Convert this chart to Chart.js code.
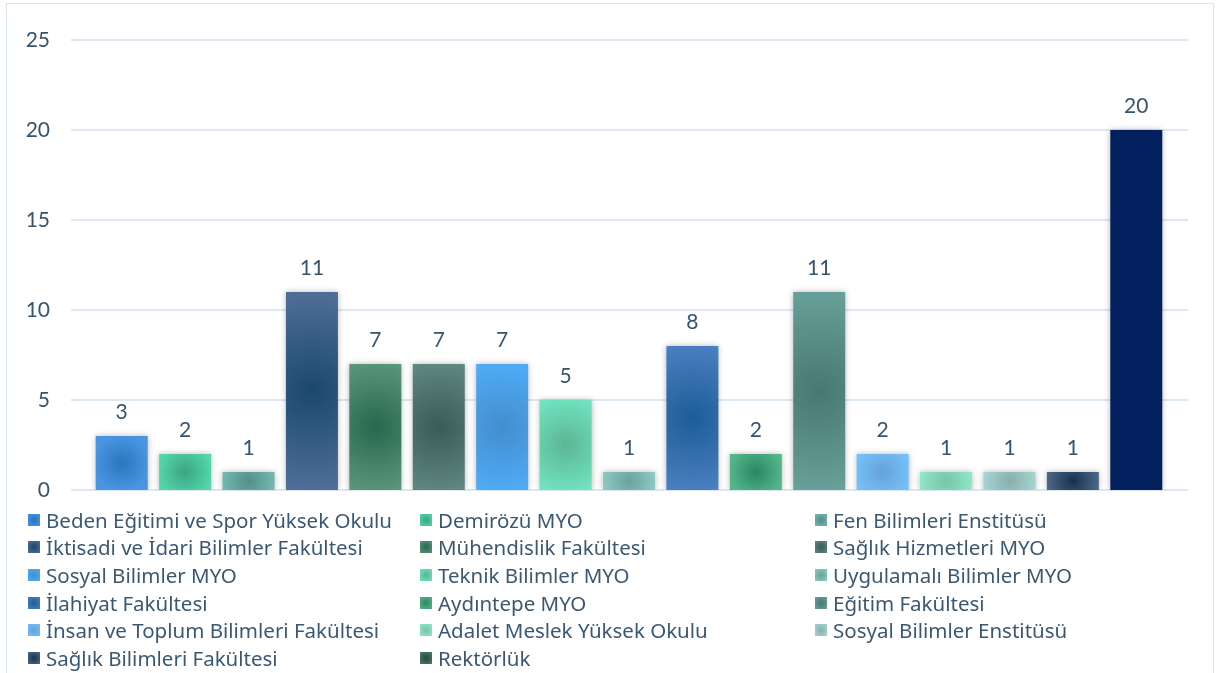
<!DOCTYPE html>
<html>
<head>
<meta charset="utf-8">
<script src="https://cdn.jsdelivr.net/npm/chart.js@4"></script>
<style>
  html, body { margin: 0; padding: 0; background: #fff; }
  #wrap { position: relative; width: 1217px; height: 673px; overflow: hidden; }
  #frame { position: absolute; left: 6px; top: 3px; width: 1208px; height: 700px; border: 1.5px solid #d9e6f1; box-sizing: border-box; }
  #c { position: absolute; left: 0; top: 0; }
  #legend { position: absolute; left: 28px; top: 506px; display: grid; grid-template-columns: 392px 395px 380px; grid-auto-rows: 27.6px; font-family: "Noto Sans", sans-serif; font-size: 20.5px; color: #3b5873; }
  #legend .it { display: flex; align-items: center; white-space: nowrap; }
  #legend .sw { width: 12px; height: 12px; margin-right: 6px; flex: none; }
</style>
</head>
<body>
<div id="wrap">
  <div id="frame"></div>
  <canvas id="c" width="1217" height="673"></canvas>
  <div id="legend"></div>
</div>
<script>
const CATEGORIES = ["Beden Eğitimi ve Spor Yüksek Okulu", "Demirözü MYO", "Fen Bilimleri Enstitüsü",
  "İktisadi ve İdari Bilimler Fakültesi", "Mühendislik Fakültesi", "Sağlık Hizmetleri MYO",
  "Sosyal Bilimler MYO", "Teknik Bilimler MYO", "Uygulamalı Bilimler MYO",
  "İlahiyat Fakültesi", "Aydıntepe MYO", "Eğitim Fakültesi",
  "İnsan ve Toplum Bilimleri Fakültesi", "Adalet Meslek Yüksek Okulu", "Sosyal Bilimler Enstitüsü",
  "Sağlık Bilimleri Fakültesi", "Rektörlük"];
const VALUES = [3, 2, 1, 11, 7, 7, 7, 5, 1, 8, 2, 11, 2, 1, 1, 1, 20];
const Y_TICKS = [0, 5, 10, 15, 20, 25];

// edge / center colours of each bar's gradient
const EDGE = ["#4a95e2", "#54d6a9", "#74bab2", "#51709a", "#5b967a", "#618781", "#50acf7", "#70e2be", "#8ecbc5",
  "#4b80c2", "#54b78b", "#69a19b", "#75bff9", "#90e9c9", "#a6d6d3", "#506a8a", "#03205e"];
const CENTER = ["#2a76bb", "#3aa682", "#558e89", "#1a486e", "#28684e", "#385c56", "#438dcd", "#5cb594", "#6ba29c",
  "#1d5d96", "#2b8763", "#487872", "#66a2d8", "#78c3a8", "#8aaeac", "#15334f", "#03205e"];
// the legend swatch of the last entry is green in the original, not navy
const LEGEND_EDGE = EDGE.slice(0, 16).concat(["#4f7d6c"]);
const LEGEND_CENTER = CENTER.slice(0, 16).concat(["#234a3c"]);

const TEXT = "#35546f";

function barFill(ctx) {
  const chart = ctx.chart;
  const i = ctx.dataIndex;
  if (!chart.chartArea || ctx.type !== "data") return EDGE[i];
  const xs = chart.scales.x, ys = chart.scales.y;
  const cx = xs.getPixelForValue(i);
  const top = ys.getPixelForValue(VALUES[i]), bot = ys.getPixelForValue(0);
  const cy = (top + bot) / 2;
  const r = Math.max(26, (bot - top) / 2) * 1.05;
  const g = chart.ctx.createRadialGradient(cx, cy, 0, cx, cy, r);
  g.addColorStop(0, CENTER[i]);
  g.addColorStop(1, EDGE[i]);
  return g;
}

const gridPlugin = {
  id: "grid",
  beforeDatasetsDraw(chart) {
    const ctx = chart.ctx, y = chart.scales.y;
    ctx.save();
    ctx.strokeStyle = "#dde8f2";
    ctx.lineWidth = 2;
    Y_TICKS.forEach(t => {
      const py = Math.round(y.getPixelForValue(t));
      ctx.beginPath();
      ctx.moveTo(71, py);
      ctx.lineTo(1188, py);
      ctx.stroke();
    });
    ctx.restore();
    ctx.save();
    ctx.shadowColor = "rgba(0,0,0,0.28)";
    ctx.shadowBlur = 6;
    ctx.shadowOffsetX = 0;
    ctx.shadowOffsetY = 0;
  },
  afterDatasetsDraw(chart) {
    chart.ctx.restore();
    const ctx = chart.ctx;
    const meta = chart.getDatasetMeta(0);
    ctx.save();
    ctx.fillStyle = TEXT;
    ctx.font = "21px Lato, sans-serif";
    ctx.textAlign = "center";
    ctx.textBaseline = "middle";
    meta.data.forEach((bar, i) => {
      ctx.fillText(String(VALUES[i]), bar.x, bar.y - 24);
    });
    ctx.restore();
  }
};

new Chart(document.getElementById("c"), {
  type: "bar",
  data: {
    labels: CATEGORIES,
    datasets: [{
      data: VALUES,
      backgroundColor: barFill,
      borderWidth: 0,
      barPercentage: 0.82,
      categoryPercentage: 1
    }]
  },
  options: {
    responsive: false,
    animation: false,
    layout: { padding: { left: 0, right: 49, top: 40, bottom: 183 } },
    plugins: { legend: { display: false }, tooltip: { enabled: false } },
    scales: {
      x: { display: false },
      y: {
        min: 0, max: 25,
        border: { display: false },
        grid: { display: false, drawTicks: false },
        afterFit(axis) { axis.width = 90; axis.paddingTop = 0; axis.paddingBottom = 0; },
        afterBuildTicks(axis) { axis.ticks = Y_TICKS.map(v => ({ value: v })); },
        ticks: { padding: 40, color: TEXT, font: { family: "Lato", size: 21 } }
      }
    }
  },
  plugins: [gridPlugin]
});

// legend, filled row by row in three columns
const leg = document.getElementById("legend");
CATEGORIES.forEach((name, i) => {
  const it = document.createElement("div");
  it.className = "it";
  const sw = document.createElement("span");
  sw.className = "sw";
  sw.style.background = "radial-gradient(circle, " + LEGEND_CENTER[i] + " 0%, " + LEGEND_EDGE[i] + " 100%)";
  it.appendChild(sw);
  it.appendChild(document.createTextNode(name));
  leg.appendChild(it);
});
</script>
</body>
</html>
